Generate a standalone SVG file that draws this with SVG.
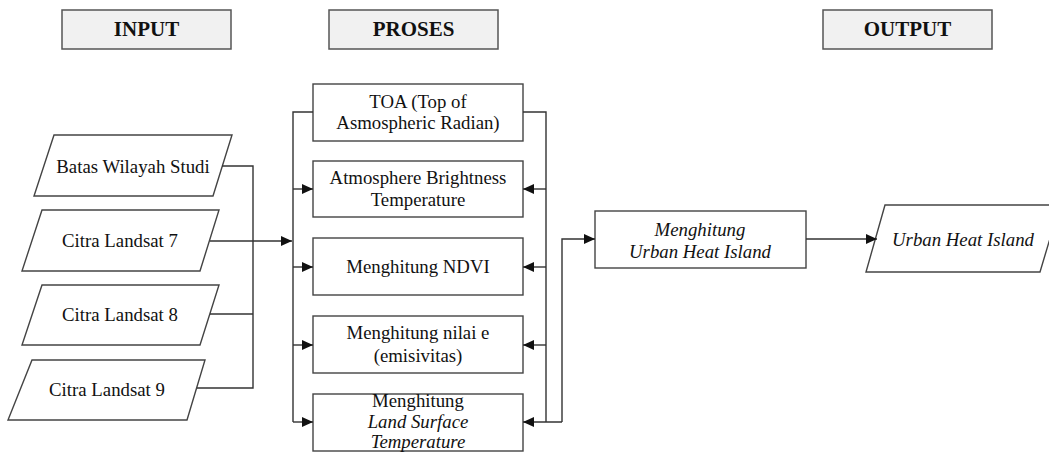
<svg xmlns="http://www.w3.org/2000/svg" width="1049" height="452" viewBox="0 0 1049 452">
<style>
.hdr{fill:#f1f1f1;stroke:#555;stroke-width:1.5}
.box{fill:#fff;stroke:#444;stroke-width:1.4}
.t{font-family:"Liberation Serif","Times New Roman",serif;font-size:18.8px;fill:#111;text-anchor:middle}
.h{font-family:"Liberation Serif","Times New Roman",serif;font-size:21px;font-weight:bold;fill:#111;text-anchor:middle}
.i{font-style:italic}
.c{fill:none;stroke:#333;stroke-width:1.4}
</style>
<defs>
<marker id="ar" markerUnits="userSpaceOnUse" markerWidth="12" markerHeight="10" refX="11" refY="5" orient="auto">
<path d="M0,0 L11,5 L0,10 Z" fill="#111"/>
</marker>
</defs>
<rect width="1049" height="452" fill="#fff"/>
<g id="hdr-input"><rect class="hdr" x="62" y="10" width="169" height="39"/><text class="h" x="146.5" y="36">INPUT</text></g>
<g id="hdr-proses"><rect class="hdr" x="329" y="10" width="169" height="39"/><text class="h" x="413.5" y="36">PROSES</text></g>
<g id="hdr-output"><rect class="hdr" x="823" y="10" width="169" height="39"/><text class="h" x="907.5" y="36">OUTPUT</text></g>

<g id="in-batas"><polygon class="box" points="54,135 232,135 213,196 34,196"/><text class="t" x="133" y="173">Batas Wilayah Studi</text></g>
<g id="in-l7"><polygon class="box" points="42,210 219,210 200,271 22,271"/><text class="t" x="120" y="247">Citra Landsat 7</text></g>
<g id="in-l8"><polygon class="box" points="42,285 219,285 200,345 22,345"/><text class="t" x="120" y="321">Citra Landsat 8</text></g>
<g id="in-l9"><polygon class="box" points="32,360 205,360 187,420 8,420"/><text class="t" x="107" y="396">Citra Landsat 9</text></g>

<g id="p-toa"><rect class="box" x="313" y="84" width="210" height="57"/><text class="t" x="418" y="108">TOA (Top of</text><text class="t" x="418" y="129">Asmospheric Radian)</text></g>
<g id="p-abt"><rect class="box" x="313" y="161" width="210" height="56"/><text class="t" x="418" y="184">Atmosphere Brightness</text><text class="t" x="418" y="206">Temperature</text></g>
<g id="p-ndvi"><rect class="box" x="313" y="238" width="210" height="57"/><text class="t" x="418" y="273">Menghitung NDVI</text></g>
<g id="p-emis"><rect class="box" x="313" y="316" width="210" height="57"/><text class="t" x="418" y="339">Menghitung nilai e</text><text class="t" x="418" y="362">(emisivitas)</text></g>
<g id="p-lst"><rect class="box" x="313" y="394" width="210" height="57"/><text class="t" x="418" y="407">Menghitung</text><text class="t i" x="418" y="428">Land Surface</text><text class="t i" x="418" y="448">Temperature</text></g>

<g id="p-uhi"><rect class="box" x="595" y="211" width="211" height="57"/><text class="t i" x="700" y="236">Menghitung</text><text class="t i" x="700" y="258">Urban Heat Island</text></g>
<g id="out-uhi"><polygon class="box" points="885,205 1060,205 1040,272 866,272"/><text class="t i" x="963" y="246">Urban Heat Island</text></g>

<g id="connectors">
<path class="c" d="M222,166 H253 V388 H197"/>
<path class="c" d="M210,314 H253"/>
<path class="c" d="M210,241 H292" marker-end="url(#ar)"/>
<path class="c" d="M313,112 H293 V422"/>
<path class="c" d="M293,189 H313" marker-end="url(#ar)"/>
<path class="c" d="M293,267 H313" marker-end="url(#ar)"/>
<path class="c" d="M293,345 H313" marker-end="url(#ar)"/>
<path class="c" d="M293,422 H313" marker-end="url(#ar)"/>
<path class="c" d="M523,112 H546 V422"/>
<path class="c" d="M546,189 H523" marker-end="url(#ar)"/>
<path class="c" d="M546,267 H523" marker-end="url(#ar)"/>
<path class="c" d="M546,345 H523" marker-end="url(#ar)"/>
<path class="c" d="M562,422 H523" marker-end="url(#ar)"/>
<path class="c" d="M562,422 V239 H595" marker-end="url(#ar)"/>
<path class="c" d="M806,239 H877" marker-end="url(#ar)"/>
</g>
</svg>
